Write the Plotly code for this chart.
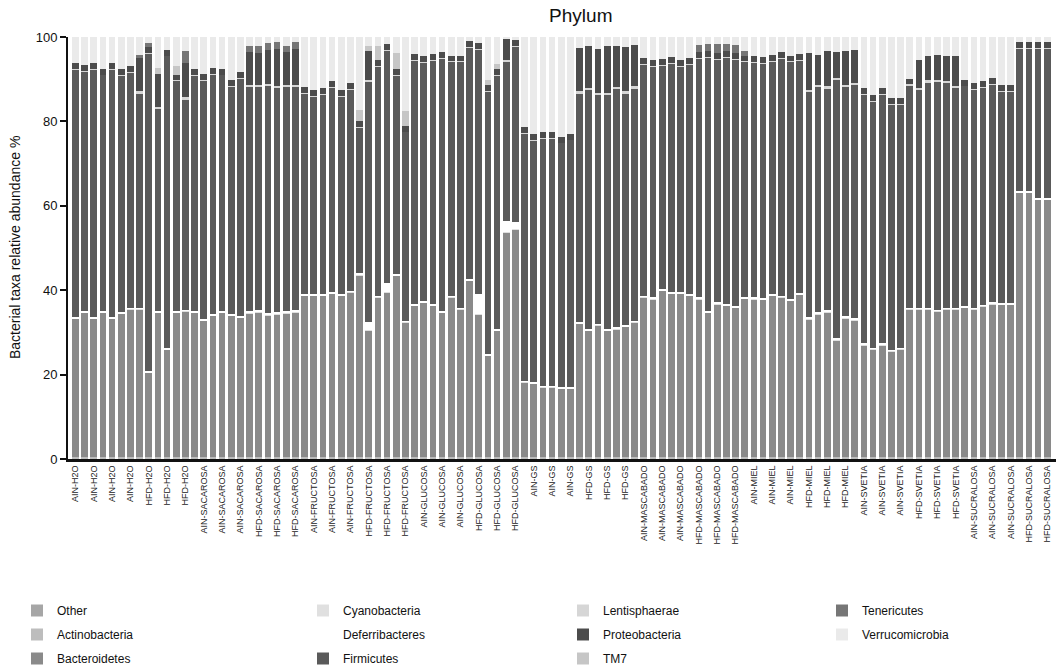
import plotly.graph_objects as go

# ---------------- data ----------------
group_names = ["AIN-H2O", "HFD-H2O", "AIN-SACAROSA", "HFD-SACAROSA", "AIN-FRUCTOSA",
               "HFD-FRUCTOSA", "AIN-GLUCOSA", "HFD-GLUCOSA", "AIN-GS", "HFD-GS",
               "AIN-MASCABADO", "HFD-MASCABADO", "AIN-MIEL", "HFD-MIEL", "AIN-SVETIA",
               "HFD-SVETIA", "AIN-SUCRALOSA", "HFD-SUCRALOSA"]
group_sizes = [7, 6, 6, 6, 6, 6, 6, 6, 6, 7, 6, 6, 6, 6, 5, 6, 6, 4]

other = [0.2, 0.2, 0.2, 0.2, 0.2, 0.2, 0.2, 0.2, 0.2, 0.2,
         0.2, 0.2, 0.2, 0.2, 0.2, 0.2, 0.2, 0.2, 0.2, 0.2,
         0.2, 0.2, 0.2, 0.2, 0.2, 0.2, 0.2, 0.2, 0.2, 0.2,
         0.2, 0.2, 0.2, 0.2, 0.2, 0.2, 0.2, 0.2, 0.2, 0.2,
         0.2, 0.2, 0.2, 0.2, 0.2, 0.2, 0.2, 0.2, 0.2, 0.2,
         0.2, 0.2, 0.2, 0.2, 0.2, 0.2, 0.2, 0.2, 0.2, 0.2,
         0.2, 0.2, 0.2, 0.2, 0.2, 0.2, 0.2, 0.2, 0.2, 0.2,
         0.2, 0.2, 0.2, 0.2, 0.2, 0.2, 0.2, 0.2, 0.2, 0.2,
         0.2, 0.2, 0.2, 0.2, 0.2, 0.2, 0.2, 0.2, 0.2, 0.2,
         0.2, 0.2, 0.2, 0.2, 0.2, 0.2, 0.2, 0.2, 0.2, 0.2,
         0.2, 0.2, 0.2, 0.2, 0.2, 0.2, 0.2]
actinobacteria = [0.2, 0.2, 0.2, 0.2, 0.2, 0.2, 0.2, 0.2, 0.2, 0.2,
                  0.2, 0.2, 0.2, 0.2, 0.2, 0.2, 0.2, 0.2, 0.2, 0.2,
                  0.2, 0.2, 0.2, 0.2, 0.2, 0.2, 0.2, 0.2, 0.2, 0.2,
                  0.2, 0.2, 0.2, 0.2, 0.2, 0.2, 0.2, 0.2, 0.2, 0.2,
                  0.2, 0.2, 0.2, 0.2, 0.2, 0.2, 0.2, 0.2, 0.2, 0.2,
                  0.2, 0.2, 0.2, 0.2, 0.2, 0.2, 0.2, 0.2, 0.2, 0.2,
                  0.2, 0.2, 0.2, 0.2, 0.2, 0.2, 0.2, 0.2, 0.2, 0.2,
                  0.2, 0.2, 0.2, 0.2, 0.2, 0.2, 0.2, 0.2, 0.2, 0.2,
                  0.2, 0.2, 0.2, 0.2, 0.2, 0.2, 0.2, 0.2, 0.2, 0.2,
                  0.2, 0.2, 0.2, 0.2, 0.2, 0.2, 0.2, 0.2, 0.2, 0.2,
                  0.2, 0.2, 0.2, 0.2, 0.2, 0.2, 0.2]
bacteroidetes = [32.8, 34.3, 32.8, 34.3, 32.8, 34.0, 35.1, 35.1, 20.1, 34.3,
                 25.5, 34.3, 34.6, 34.3, 32.4, 33.5, 34.3, 33.5, 33.1, 34.1,
                 34.4, 33.7, 33.9, 34.1, 34.4, 38.3, 38.3, 38.3, 38.7, 38.3,
                 39.1, 43.2, 30.0, 37.9, 39.1, 43.0, 32.0, 35.9, 36.7, 35.9,
                 34.3, 37.9, 35.1, 41.8, 33.9, 24.1, 30.0, 53.2, 54.0, 17.8,
                 17.4, 16.6, 16.6, 16.2, 16.2, 31.6, 30.0, 31.3, 30.0, 30.4,
                 30.9, 32.0, 37.9, 37.5, 39.5, 38.7, 38.7, 38.3, 37.5, 34.3,
                 36.3, 35.9, 35.5, 37.6, 37.5, 37.4, 38.3, 37.9, 37.1, 38.5,
                 32.7, 33.9, 34.3, 27.6, 32.9, 32.4, 26.6, 25.6, 26.6, 25.1,
                 25.6, 35.1, 35.1, 35.1, 34.6, 35.1, 35.1, 35.5, 35.1, 35.8,
                 36.3, 36.1, 36.1, 62.7, 62.7, 61.1, 61.1]
cyanobacteria = [0.1, 0.1, 0.1, 0.1, 0.1, 0.1, 0.1, 0.1, 0.1, 0.1,
                 0.1, 0.1, 0.1, 0.1, 0.1, 0.1, 0.1, 0.1, 0.1, 0.1,
                 0.1, 0.1, 0.1, 0.1, 0.1, 0.1, 0.1, 0.1, 0.1, 0.1,
                 0.1, 0.1, 0.1, 0.1, 0.1, 0.1, 0.1, 0.1, 0.1, 0.1,
                 0.1, 0.1, 0.1, 0.1, 0.1, 0.1, 0.1, 0.1, 0.1, 0.1,
                 0.1, 0.1, 0.1, 0.1, 0.1, 0.1, 0.1, 0.1, 0.1, 0.1,
                 0.1, 0.1, 0.1, 0.1, 0.1, 0.1, 0.1, 0.1, 0.1, 0.1,
                 0.1, 0.1, 0.1, 0.1, 0.1, 0.1, 0.1, 0.1, 0.1, 0.1,
                 0.1, 0.1, 0.1, 0.1, 0.1, 0.1, 0.1, 0.1, 0.1, 0.1,
                 0.1, 0.1, 0.1, 0.1, 0.1, 0.1, 0.1, 0.1, 0.1, 0.1,
                 0.1, 0.1, 0.1, 0.1, 0.1, 0.1, 0.1]
deferribacteres = [0.3, 0.3, 0.3, 0.3, 0.3, 0.3, 0.3, 0.3, 0.3, 0.3,
                   0.3, 0.3, 0.3, 0.3, 0.3, 0.3, 0.3, 0.3, 0.3, 0.5,
                   0.5, 0.5, 0.5, 0.5, 0.5, 0.3, 0.3, 0.3, 0.3, 0.3,
                   0.3, 0.3, 2.0, 0.3, 2.2, 0.3, 0.3, 0.3, 0.3, 0.3,
                   0.3, 0.3, 0.3, 0.3, 4.7, 0.3, 0.3, 2.6, 1.6, 0.3,
                   0.3, 0.3, 0.3, 0.3, 0.3, 0.3, 0.3, 0.3, 0.3, 0.3,
                   0.3, 0.3, 0.3, 0.3, 0.3, 0.3, 0.3, 0.3, 0.3, 0.3,
                   0.3, 0.3, 0.3, 0.3, 0.3, 0.3, 0.3, 0.3, 0.3, 0.3,
                   0.5, 0.5, 0.5, 0.5, 0.5, 0.5, 0.3, 0.3, 0.3, 0.3,
                   0.3, 0.3, 0.3, 0.3, 0.3, 0.3, 0.3, 0.3, 0.3, 0.3,
                   0.3, 0.3, 0.3, 0.3, 0.3, 0.3, 0.3]
firmicutes = [58.7, 56.7, 58.7, 55.9, 58.7, 56.0, 55.8, 50.8, 75.2, 47.9,
              69.2, 54.5, 49.9, 55.7, 56.6, 56.8, 55.9, 53.9, 56.2, 53.1,
              52.8, 53.7, 53.1, 53.1, 52.8, 47.6, 46.9, 47.3, 48.5, 46.8,
              47.7, 34.5, 57.0, 54.4, 55.1, 47.1, 44.7, 57.8, 56.4, 57.8,
              59.9, 55.4, 58.2, 54.9, 58.0, 62.3, 60.0, 37.9, 41.7, 58.6,
              57.2, 58.6, 58.6, 57.9, 58.6, 54.3, 56.7, 54.2, 55.5, 56.5,
              55.0, 55.1, 54.8, 54.8, 53.0, 54.3, 53.5, 54.4, 56.6, 60.0,
              57.6, 58.4, 58.4, 55.7, 55.6, 55.6, 55.2, 56.2, 56.2, 55.2,
              53.4, 53.4, 52.6, 61.3, 54.3, 55.3, 58.9, 58.3, 58.9, 58.2,
              57.7, 52.6, 51.6, 53.4, 54.1, 53.2, 52.1, 52.1, 51.7, 51.4,
              51.7, 50.3, 50.3, 33.7, 33.7, 35.3, 35.3]
lentisphaerae = [0.1, 0.1, 0.1, 0.1, 0.1, 0.1, 0.1, 0.4, 0.1, 0.4,
                 0.1, 0.1, 0.4, 0.1, 0.1, 0.1, 0.1, 0.1, 0.1, 0.4,
                 0.4, 0.4, 0.4, 0.4, 0.4, 0.1, 0.1, 0.1, 0.1, 0.1,
                 0.1, 0.1, 0.4, 0.1, 0.1, 0.1, 0.1, 0.1, 0.1, 0.1,
                 0.1, 0.1, 0.1, 0.1, 0.1, 0.1, 0.1, 0.4, 0.1, 0.1,
                 0.1, 0.1, 0.1, 0.1, 0.1, 0.4, 0.4, 0.4, 0.4, 0.4,
                 0.4, 0.4, 0.1, 0.1, 0.1, 0.1, 0.1, 0.1, 0.1, 0.1,
                 0.1, 0.1, 0.1, 0.1, 0.1, 0.1, 0.1, 0.1, 0.1, 0.1,
                 0.4, 0.4, 0.4, 0.4, 0.4, 0.4, 0.1, 0.1, 0.1, 0.1,
                 0.1, 0.4, 0.4, 0.4, 0.4, 0.4, 0.4, 0.1, 0.1, 0.1,
                 0.1, 0.1, 0.1, 0.1, 0.1, 0.1, 0.1]
proteobacteria = [1.4, 1.4, 1.4, 1.4, 1.4, 1.4, 1.4, 7.9, 1.4, 7.8,
                  1.4, 1.4, 8.1, 1.4, 1.4, 1.4, 1.4, 1.4, 1.4, 7.8,
                  7.7, 8.2, 8.8, 7.9, 8.6, 1.4, 1.4, 1.4, 1.4, 1.4,
                  1.4, 1.4, 6.7, 1.4, 1.4, 1.4, 1.4, 1.4, 1.4, 1.4,
                  1.4, 1.4, 1.4, 1.4, 1.4, 1.4, 1.4, 4.9, 1.4, 1.4,
                  1.4, 1.4, 1.4, 1.4, 1.4, 10.3, 10.0, 10.5, 11.1, 9.8,
                  10.5, 9.9, 1.4, 1.4, 1.4, 1.4, 1.4, 1.4, 1.4, 1.4,
                  1.4, 1.4, 1.4, 1.4, 1.4, 1.4, 1.4, 1.4, 1.4, 1.4,
                  8.7, 7.1, 8.3, 6.1, 8.0, 7.9, 1.4, 1.4, 1.4, 1.4,
                  1.4, 1.1, 6.6, 5.9, 5.9, 5.9, 7.0, 1.4, 1.4, 1.4,
                  1.4, 1.4, 1.4, 1.4, 1.4, 1.4, 1.4]
tm7 = [0, 0, 0, 0, 0, 0, 0, 0, 0, 1.5,
       0, 2.0, 0, 0, 0, 0, 0, 0, 0, 0,
       0, 0, 0, 0, 0, 0, 0, 0, 0, 0,
       0, 2.8, 1.2, 3.2, 0, 3.8, 3.4, 0, 0, 0,
       0, 0, 0, 0, 0, 1.2, 1.2, 0, 0, 0,
       0, 0, 0, 0, 0, 0, 0, 0, 0, 0,
       0, 0, 0, 0, 0, 0, 0, 0, 0, 0,
       0, 0, 0, 0, 0, 0, 0, 0, 0, 0,
       0, 0, 0, 0, 0, 0, 0, 0, 0, 0,
       0, 0, 0, 0, 0, 0, 0, 0, 0, 0,
       0, 0, 0, 0, 0, 0, 0]
tenericutes = [0, 0, 0, 0, 0, 0, 0, 0.8, 1.0, 0,
               0, 0, 2.8, 0, 0, 0, 0, 0, 0, 1.4,
               1.5, 1.6, 1.5, 1.4, 1.5, 0, 0, 0, 0, 0,
               0, 0, 0, 0, 0, 0, 0, 0, 0, 0,
               0, 0, 0, 0, 0, 0, 0, 0, 0, 0,
               0, 0, 0, 0, 0, 0, 0, 0, 0, 0,
               0, 0, 0, 0, 0, 0, 0, 0, 1.8, 1.8,
               2.2, 1.8, 2.0, 1.0, 0, 0, 0, 0, 0, 0,
               0, 0, 0, 0, 0, 0, 0, 0, 0, 0,
               0, 0, 0, 0, 0, 0, 0, 0, 0, 0,
               0, 0, 0, 0, 0, 0, 0]
verrucomicrobia = [6.2, 6.7, 6.2, 7.5, 6.2, 7.7, 6.8, 4.2, 1.4, 7.3,
                   3.0, 6.9, 3.4, 7.7, 8.7, 7.4, 7.5, 10.3, 8.4, 2.2,
                   2.2, 1.4, 1.3, 2.1, 1.3, 11.8, 12.5, 12.1, 10.5, 12.6,
                   10.9, 17.2, 2.2, 2.2, 1.6, 3.8, 17.6, 4.0, 4.6, 4.0,
                   3.5, 4.4, 4.4, 1.0, 1.4, 10.1, 6.5, 0.5, 0.7, 21.3,
                   23.1, 22.5, 22.5, 23.6, 22.9, 2.6, 2.1, 2.8, 2.2, 2.1,
                   2.4, 1.8, 5.0, 5.4, 5.2, 4.7, 5.5, 5.0, 1.8, 1.6,
                   1.6, 1.6, 1.8, 3.4, 4.6, 4.7, 4.2, 3.6, 4.4, 4.0,
                   3.8, 4.2, 3.4, 3.6, 3.4, 3.0, 12.2, 13.8, 12.2, 14.4,
                   14.4, 10.0, 5.5, 4.4, 4.2, 4.6, 4.6, 10.1, 10.9, 10.5,
                   9.7, 11.3, 11.3, 1.3, 1.3, 1.3, 1.3]

phyla = ["Other", "Actinobacteria", "Bacteroidetes", "Cyanobacteria", "Deferribacteres",
         "Firmicutes", "Lentisphaerae", "Proteobacteria", "TM7", "Tenericutes",
         "Verrucomicrobia"]
values = [other, actinobacteria, bacteroidetes, cyanobacteria, deferribacteres,
          firmicutes, lentisphaerae, proteobacteria, tm7, tenericutes, verrucomicrobia]

# ---------------- styling ----------------
colors = {"Other": "#a6a6a6", "Actinobacteria": "#bdbdbd", "Bacteroidetes": "#8a8a8a",
          "Cyanobacteria": "#e0e0e0", "Deferribacteres": "#ffffff", "Firmicutes": "#5a5a5a",
          "Lentisphaerae": "#d6d6d6", "Proteobacteria": "#4c4c4c", "TM7": "#c6c6c6",
          "Tenericutes": "#767676", "Verrucomicrobia": "#eaeaea"}
legend_of = {"Other": "legend", "Actinobacteria": "legend", "Bacteroidetes": "legend",
             "Cyanobacteria": "legend2", "Deferribacteres": "legend2", "Firmicutes": "legend2",
             "Lentisphaerae": "legend3", "Proteobacteria": "legend3", "TM7": "legend3",
             "Tenericutes": "legend4", "Verrucomicrobia": "legend4"}

sample_labels = [g for g, n in zip(group_names, group_sizes) for _ in range(n)]
x = list(range(len(sample_labels)))

FONT = "Liberation Sans, Arial, sans-serif"

fig = go.Figure()
for name, vals in zip(phyla, values):
    fig.add_trace(go.Bar(
        x=x, y=vals, name=name, legend=legend_of[name], legendgroup=name,
        marker=dict(color=colors[name], line=dict(width=0)),
        hovertemplate="%{customdata}<br>" + name + ": %{y}%<extra></extra>",
        customdata=sample_labels,
    ))

fig.update_layout(
    width=1056, height=666,
    barmode="stack", bargap=0.27,
    plot_bgcolor="white", paper_bgcolor="white",
    margin=dict(l=68, r=0, t=37, b=207, autoexpand=False),
    font=dict(family=FONT, color="#111"),
    title=dict(text="Phylum", x=0.55, xref="container", y=0.977, yref="container",
               xanchor="center", yanchor="middle",
               font=dict(size=19, family=FONT, color="#111")),
    xaxis=dict(range=[-0.8, 106.95], tickmode="array", tickvals=x[::2],
               ticktext=sample_labels[::2], tickangle=-90,
               tickfont=dict(size=9, family=FONT, color="#222"),
               showline=True, linewidth=3, linecolor="#111", ticks="",
               showgrid=False, zeroline=False, automargin=False),
    yaxis=dict(range=[0, 100], tickvals=[0, 20, 40, 60, 80, 100],
               ticks="outside", ticklen=6, tickwidth=2, tickcolor="#111",
               tickfont=dict(size=13, family=FONT, color="#111"),
               showline=True, linewidth=2, linecolor="#111",
               showgrid=False, zeroline=False, automargin=False),
    annotations=[dict(text="Bacterial taxa relative abundance %", textangle=-90,
                      xref="paper", yref="paper", x=-53 / 988, y=0.5,
                      xanchor="center", yanchor="middle", showarrow=False,
                      font=dict(size=14, family=FONT, color="#111"))],
)

legend_common = dict(orientation="v", xref="container", yref="container",
                     xanchor="left", yanchor="top", traceorder="grouped",
                     tracegroupgap=5, bgcolor="rgba(0,0,0,0)",
                     font=dict(size=12, family=FONT, color="#111"))
fig.update_layout(
    legend=dict(x=17 / 1056, y=1 - 596 / 666, **legend_common),
    legend2=dict(x=303 / 1056, y=1 - 596 / 666, **legend_common),
    legend3=dict(x=563 / 1056, y=1 - 596 / 666, **legend_common),
    legend4=dict(x=822 / 1056, y=1 - 596 / 666, **legend_common),
)

fig.write_html("out.html")
